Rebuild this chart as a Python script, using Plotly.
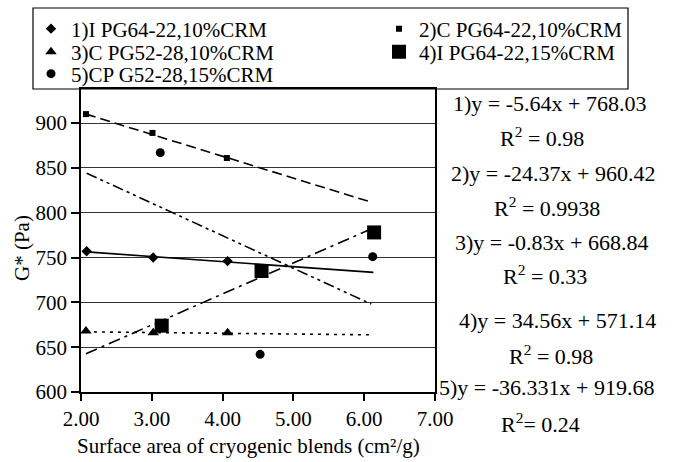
import plotly.graph_objects as go

# ---- data ----
names = ["1)I PG64-22,10%CRM", "2)C PG64-22,10%CRM", "3)C PG52-28,10%CRM",
         "4)I PG64-22,15%CRM", "5)CP G52-28,15%CRM"]
x1 = [2.08, 3.02, 4.07]
y1 = [757, 750, 746]
x2 = [2.07, 3.01, 4.06]
y2 = [910, 889, 861]
x3 = [2.07, 3.02, 4.07]
y3 = [668, 666, 666]
x4 = [3.14, 4.55, 6.14]
y4 = [674, 735, 778]
x5 = [3.12, 4.53, 6.12]
y5 = [867, 642, 751]

slopes = [-5.64, -24.37, -0.83, 34.56, -36.331]
intercepts = [768.03, 960.42, 668.84, 571.14, 919.68]
slope_labels = ["-5.64", "-24.37", "-0.83", "34.56", "-36.331"]
intercept_labels = ["768.03", "960.42", "668.84", "571.14", "919.68"]
r2_labels = ["0.98", "0.9938", "0.33", "0.98", "0.24"]
trend_start = [2.08, 2.07, 2.07, 2.07, 2.08]
trend_end = [6.13, 6.10, 6.13, 6.08, 6.10]

xticks = [2, 3, 4, 5, 6, 7]
yticks = [600, 650, 700, 750, 800, 850, 900]

FONT = "Liberation Serif, Times New Roman, serif"

xs = [x1, x2, x3, x4, x5]
ys = [y1, y2, y3, y4, y5]
symbols = ["diamond", "square", "triangle-up", "square", "circle"]
sizes = [8, 6, 10, 14, 9]
dashes = ["solid", "10px,5px", "3px,5px", "12px,5px,3px,5px", "11px,4px,3px,4px,3px,4px"]
legend_ids = ["legend", "legend2", "legend3", "legend4", "legend5"]

fig = go.Figure()

# trendlines
for i in range(5):
    tx = [trend_start[i], trend_end[i]]
    ty = [slopes[i] * v + intercepts[i] for v in tx]
    fig.add_trace(go.Scatter(x=tx, y=ty, mode="lines", showlegend=False,
                             line=dict(color="black", width=1.6, dash=dashes[i]),
                             hoverinfo="skip"))

for i in range(5):
    fig.add_trace(go.Scatter(x=xs[i], y=ys[i], mode="markers", name=names[i],
                             legend=legend_ids[i],
                             marker=dict(symbol=symbols[i], size=sizes[i], color="black")))

L, R, T, B = 81, 435, 89, 392
W, H = 675, 462
pw, ph = R - L, B - T

def px2x(px):
    return (px - L) / pw

def py2y(py):
    return (B - py) / ph

# legend item positions (pixels)
leg_px = [31, 379, 31, 379, 31]
leg_py = [29, 29, 52, 52, 74]

layout_legends = {}
for i in range(5):
    layout_legends[legend_ids[i]] = dict(
        orientation="v", bgcolor="rgba(0,0,0,0)", borderwidth=0,
        font=dict(family=FONT, size=21, color="black"),
        xanchor="left", yanchor="middle",
        x=px2x(leg_px[i]), y=py2y(leg_py[i]),
        itemclick=False, itemdoubleclick=False)

fig.update_layout(
    width=W, height=H,
    margin=dict(l=L, r=W - R, t=T, b=H - B, autoexpand=False),
    paper_bgcolor="white", plot_bgcolor="white",
    font=dict(family=FONT, size=21, color="black"),
    xaxis=dict(range=[2, 7], tickvals=xticks, tickformat=".2f",
               showgrid=False, zeroline=False,
               showline=True, linecolor="black", linewidth=1.5, mirror=True,
               ticks="outside", ticklen=7, tickcolor="black", tickwidth=1.5,
               tickfont=dict(family=FONT, size=21)),
    yaxis=dict(range=[600, 938], tickvals=yticks,
               showgrid=True, gridcolor="#333", gridwidth=1.2, zeroline=False,
               showline=True, linecolor="black", linewidth=1.5, mirror=True,
               ticks="outside", ticklen=8, tickcolor="black", tickwidth=1.5,
               tickfont=dict(family=FONT, size=21)),
    shapes=[dict(type="rect", xref="paper", yref="paper",
                 x0=px2x(33), x1=px2x(628), y0=py2y(89), y1=py2y(8),
                 line=dict(color="black", width=1.2), fillcolor="rgba(0,0,0,0)")],
    **layout_legends,
)

# axis titles
fig.add_annotation(text="Surface area of cryogenic blends (cm²/g)", xref="paper", yref="paper",
                   x=px2x(248), y=py2y(446), showarrow=False, xanchor="center", yanchor="middle",
                   font=dict(family=FONT, size=21, color="black"))
fig.add_annotation(text="G* (Pa)", xref="paper", yref="paper", textangle=-90,
                   x=px2x(22), y=py2y(248), showarrow=False, xanchor="center", yanchor="middle",
                   font=dict(family=FONT, size=21, color="black"))

# equation annotations
eq_y = [103, 173, 242, 320, 387]
r2_y = [137, 207, 275, 355, 423]
eq_x = [549, 553, 551, 557, 546]
r2_x = [542, 547, 545, 551, 540]
for i in range(5):
    eq = f"{i+1})y = {slope_labels[i]}x + {intercept_labels[i]}"
    fig.add_annotation(text=eq, xref="paper", yref="paper",
                       x=px2x(eq_x[i]), y=py2y(eq_y[i]), showarrow=False,
                       xanchor="center", yanchor="middle",
                       font=dict(family=FONT, size=22, color="black"))
    r2 = ("R<sup>2</sup> = " if i < 4 else "R<sup>2</sup>= ") + r2_labels[i]
    fig.add_annotation(text=r2, xref="paper", yref="paper",
                       x=px2x(r2_x[i]), y=py2y(r2_y[i]), showarrow=False,
                       xanchor="center", yanchor="middle",
                       font=dict(family=FONT, size=22, color="black"))

fig.write_html("out.html", config={"displayModeBar": False},
               post_script="document.body.style.margin='0px';document.body.style.overflow='hidden';")
